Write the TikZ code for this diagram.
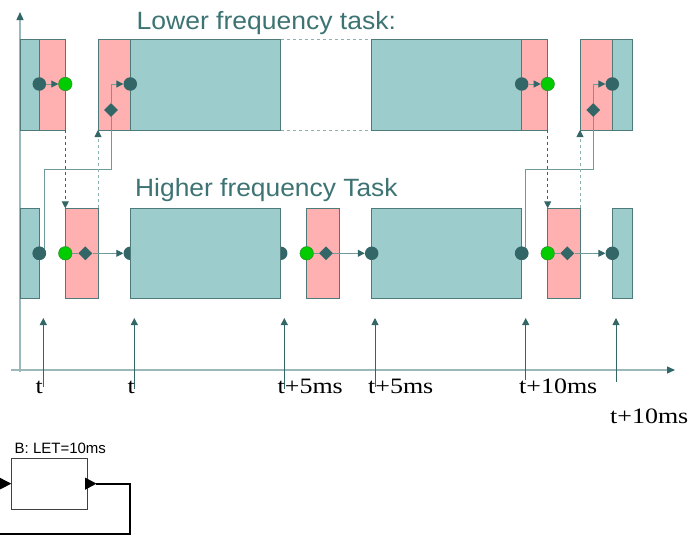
\documentclass[tikz,border=0pt]{standalone}
\usepackage{fontspec}
\setmainfont{Liberation Serif}
\newfontfamily\arial{Liberation Sans}
\usetikzlibrary{arrows.meta,shapes.geometric}
\definecolor{tealF}{HTML}{9CCCCC}
\definecolor{tealD}{HTML}{4E7A7A}
\definecolor{pinkF}{HTML}{FFB0B0}
\definecolor{dk}{HTML}{336666}
\definecolor{lnk}{HTML}{6F9A9A}
\definecolor{lite}{HTML}{8FB0B0}
\definecolor{axc}{HTML}{9DB8B8}
\definecolor{grn}{HTML}{00CC00}
\definecolor{grnD}{HTML}{2E8B2E}
\definecolor{ttl}{HTML}{3E7373}
\definecolor{blkD}{HTML}{404040}
\begin{document}
\begin{tikzpicture}[x=1pt,y=-1pt,
  tbox/.style={fill=tealF,draw=tealD,line width=0.8pt},
  pbox/.style={fill=pinkF,draw=tealD,line width=0.8pt},
  dot/.style={circle,fill=dk,inner sep=0pt,minimum size=13.5pt},
  gdot/.style={circle,fill=grn,draw=grnD,line width=0.5pt,inner sep=0pt,minimum size=13.5pt},
  dia/.style={diamond,fill=dk,inner sep=0pt,minimum size=14pt},
  link/.style={draw=lnk,line width=0.9pt},
  tip/.style={-{Triangle[length=7pt,width=7pt,color=dk]}},
  dsh/.style={dash pattern=on 3pt off 3pt,line width=0.9pt},
  axis/.style={draw=axc,line width=1.3pt,-{Triangle[length=8pt,width=7pt,color=dk]}},
  tarr/.style={draw=dk,line width=0.9pt,-{Triangle[length=7pt,width=7pt,color=dk]}},
  ttlfont/.style={font=\arial\fontsize{25}{25}\selectfont,text=ttl,inner sep=0pt,anchor=base west},
  lbl/.style={font=\fontsize{22}{22}\selectfont,inner sep=0pt,anchor=base west}
]
\useasboundingbox (0,0) rectangle (694,536);

% axes
\coordinate (ay0) at (20,372);
\coordinate (ay1) at (20,12);
\coordinate (ax0) at (11,370);
\coordinate (ax1) at (675,370);
\draw[axis] (ay0) -- (ay1);
\draw[axis] (ax0) -- (ax1);

% titles
\node[ttlfont] (tl) at (136.5,29.3) {\scalebox{1.06}[1]{Lower frequency task:}};
\node[ttlfont] (th) at (135,196.5) {\scalebox{1.055}[1]{Higher frequency Task}};

% upper row boxes
\draw[tbox] (20,39) rectangle (39.3,130);
\draw[pbox] (39.3,39) rectangle (65.3,130);
\draw[pbox] (98,39) rectangle (130.3,130);
\draw[tbox] (130.3,39) rectangle (280.7,130);
\draw[dsh,draw=lite] (280.7,39) -- (371.3,39);
\draw[dsh,draw=lite] (280.7,130) -- (371.3,130);
\draw[tbox] (371.3,39) rectangle (521.7,130);
\draw[pbox] (521.7,39) rectangle (547.7,130);
\draw[pbox] (580,39) rectangle (612.3,130);
\draw[tbox] (612.3,39) rectangle (632.7,130);

% lower row: circles hidden behind boxes
\node[dot] (L2) at (130.3,253.3) {};
\node[dot] (L3) at (280.7,253.3) {};

% lower row boxes
\draw[tbox] (20,208.3) rectangle (39.3,298.5);
\draw[pbox] (65.3,208.3) rectangle (98,298.5);
\draw[tbox] (130.3,208.3) rectangle (280.7,298.5);
\draw[pbox] (306.7,208.3) rectangle (339.3,298.5);
\draw[tbox] (371.7,208.3) rectangle (521.7,298.5);
\draw[pbox] (547.7,208.3) rectangle (580,298.5);
\draw[tbox] (612.3,208.3) rectangle (632.7,298.5);

% markers upper
\node[dot] (U1) at (39.3,84) {};
\node[gdot] (U1g) at (65.3,84) {};
\node[dot] (U2) at (130.3,84) {};
\node[dot] (U3) at (521.7,84) {};
\node[gdot] (U3g) at (547.7,84) {};
\node[dot] (U4) at (612.3,84) {};

% markers lower
\node[dot] (L1) at (39.3,253.3) {};
\node[gdot] (L1g) at (65.3,253.3) {};
\node[gdot] (L3g) at (306.7,253.3) {};
\node[dot] (L4) at (371.7,253.3) {};
\node[dot] (L5) at (521.7,253.3) {};
\node[gdot] (L5g) at (547.7,253.3) {};
\node[dot] (L6) at (612.3,253.3) {};

% links between rows (solid)
\coordinate (k1a) at (44,169);
\coordinate (k1b) at (111,169);
\coordinate (k2a) at (525.7,169);
\coordinate (k2b) at (593.3,169);
\draw[link] (L1.center -| k1a) -- (k1a) -- (k1b) -- (111,116);
\draw[link] (L5.center -| k2a) -- (k2a) -- (k2b) -- (593.3,116);
\node[dot] (L1x) at (39.3,253.3) {};
\node[dot] (L5x) at (521.7,253.3) {};
\node[dia] (U2d) at (111,110) {};
\node[dia] (U4d) at (593.3,110) {};
\draw[link,tip] (U2d) |- (U2);
\draw[link,tip] (U4d) |- (U4);

% horizontal links
\draw[link,tip] (U1) -- (U1g);
\draw[link,tip] (U3) -- (U3g);
\node[dia] (L1d) at (85.3,253.3) {};
\node[dia] (L3d) at (326,253.3) {};
\node[dia] (L5d) at (567.3,253.3) {};
\draw[link] (L1g) -- (L1d);
\draw[link] (L3g) -- (L3d);
\draw[link] (L5g) -- (L5d);
\draw[link,tip] (L1d) -- (L2);
\draw[link,tip] (L3d) -- (L4);
\draw[link,tip] (L5d) -- (L6);

% dashed links
\coordinate (dA1) at (65.3,130);  \coordinate (dA2) at (65.3,208.3);
\coordinate (dB1) at (98,208.3);  \coordinate (dB2) at (98,130);
\coordinate (dC1) at (547.7,130); \coordinate (dC2) at (547.7,208.3);
\coordinate (dD1) at (580,208.3); \coordinate (dD2) at (580,130);
\draw[dsh,draw=dk,tip] (dA1) -- (dA2);
\draw[dsh,draw=lite,tip] (dB1) -- (dB2);
\draw[dsh,draw=dk,tip] (dC1) -- (dC2);
\draw[dsh,draw=lite,tip] (dD1) -- (dD2);

% time arrows
\foreach \i/\x/\b in {1/43.3/387,2/134.3/389,3/284.3/389,4/375/387,5/525.7/380,6/616/382}{
  \coordinate (ta\i) at (\x,\b);
  \coordinate (tb\i) at (\x,318);
  \draw[tarr] (ta\i) -- (tb\i);
}

% time labels
\node[lbl] (l1) at (35.5,393) {\scalebox{1.18}[1]{t}};
\node[lbl] (l2) at (127.5,393) {\scalebox{1.18}[1]{t}};
\node[lbl] (l3) at (277.5,393) {\scalebox{1.18}[1]{t+5ms}};
\node[lbl] (l4) at (368,393) {\scalebox{1.18}[1]{t+5ms}};
\node[lbl] (l5) at (519,393) {\scalebox{1.18}[1]{t+10ms}};
\node[lbl] (l6) at (610,423) {\scalebox{1.18}[1]{t+10ms}};

% block
\node[draw=blkD,line width=0.8pt,minimum width=75.6pt,minimum height=50.7pt,inner sep=0pt] (blk) at (49.5,483.65) {};
\node[font=\arial\fontsize{15}{15}\selectfont,anchor=base west,inner sep=0pt] (blkl) at (14.5,453) {B: LET=10ms};
\coordinate (inL) at (-3,483.65);
\draw[line width=1.5pt,-{Triangle[length=12pt,width=12pt]}] (inL) -- (blk.west);
\fill (85,477.5) -- (96.5,483.65) -- (85,489.8) -- cycle;
\coordinate (o1) at (96,483.65);
\coordinate (o2) at (130,483.65);
\coordinate (o3) at (-5,534);
\draw[line width=2pt] (o1) -- (o2) |- (o3);
\end{tikzpicture}
\end{document}
